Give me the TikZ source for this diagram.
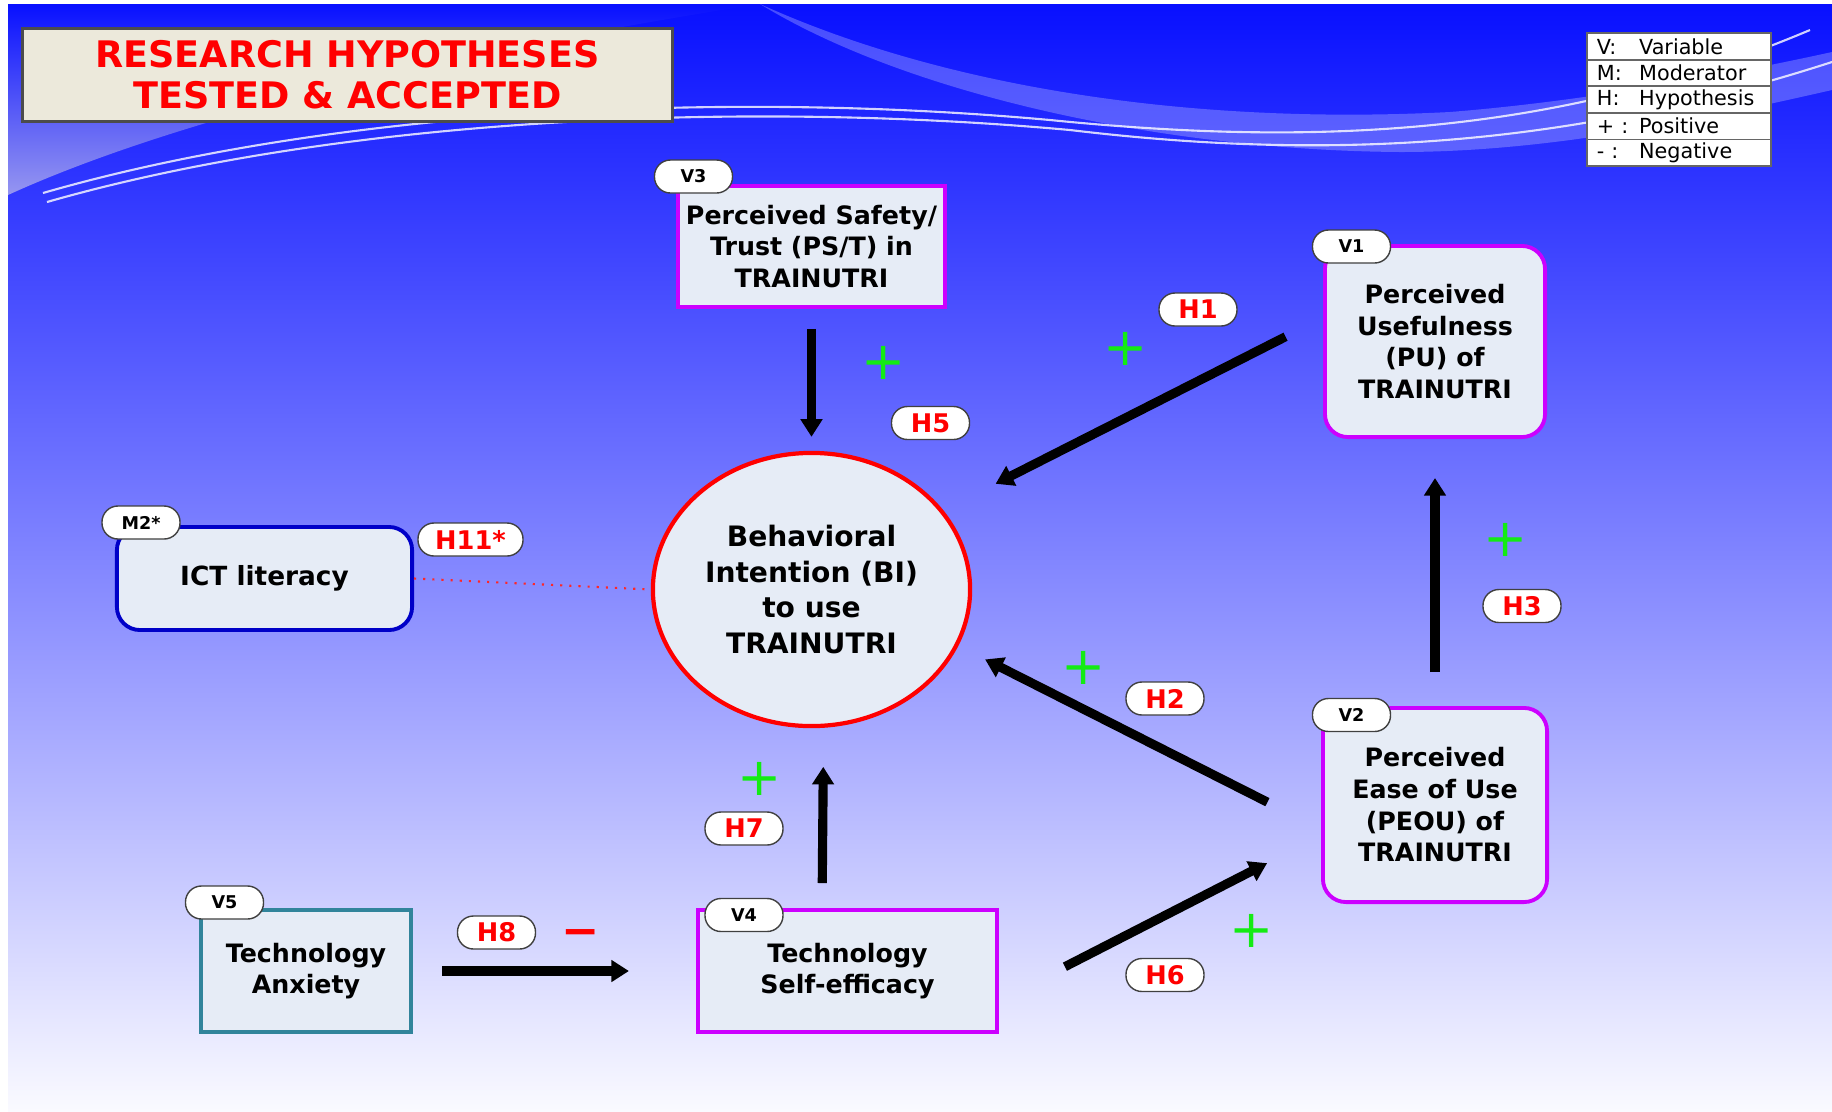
\documentclass[tikz,border=0pt]{standalone}
\usepackage{fontspec}
\setmainfont{DejaVu Sans}
\usepackage{tikz}
\usetikzlibrary{arrows.meta,shapes,positioning}
\usepackage{xcolor}
\definecolor{bgtop}{RGB}{8,16,255}
\definecolor{bgbottom}{RGB}{250,250,255}
\definecolor{swoosh}{RGB}{150,150,240}
\definecolor{boxfill}{RGB}{230,236,246}
\definecolor{dfmagenta}{RGB}{204,0,255}
\definecolor{dfnavy}{RGB}{0,0,200}
\definecolor{dfteal}{RGB}{49,132,155}
\definecolor{titlefill}{RGB}{236,233,219}
\definecolor{plusgreen}{RGB}{20,235,20}
\newcommand{\varfont}{\fontsize{7.2}{9}\selectfont\bfseries}
\newcommand{\bifont}{\fontsize{8}{10.2}\selectfont\bfseries}
\newcommand{\tagfont}{\fontsize{5}{6}\selectfont\bfseries}
\newcommand{\hypfont}{\fontsize{7.3}{8}\selectfont\bfseries}
\newcommand{\legfont}{\fontsize{5.9}{7}\selectfont}
\newcommand{\hdfont}{\fontsize{10.4}{11.7}\selectfont\bfseries}
\newcommand{\legitem}[2]{\makebox[12pt][l]{#1}#2}
\tikzstyle{arrow} = [line width=2.6pt, ->, >={Triangle[length=5pt,width=6pt]}]
\tikzstyle{varbox} = [rectangle, draw=dfmagenta, fill=boxfill, line width=1.1pt, align=center, font=\varfont, inner sep=0pt]
\tikzstyle{roundbox} = [varbox, rounded corners=0.23cm]
\tikzstyle{tag} = [rectangle, rounded corners=0.16cm, draw=black!75, fill=white, line width=0.4pt, minimum width=0.78cm, minimum height=0.33cm, inner sep=0pt, font=\tagfont]
\tikzstyle{hyp} = [tag, text=red, font=\hypfont]
\tikzstyle{plus} = [text=plusgreen, font=\fontsize{15}{15}\selectfont, inner sep=0pt]
\tikzstyle{legrow} = [rectangle, draw=black!60, fill=white, line width=0.5pt, minimum width=1.84cm, minimum height=0.266cm, text width=1.64cm, inner xsep=0.1cm, inner ysep=0pt, align=left, font=\legfont]

\begin{document}
\begin{tikzpicture}[x=0.01cm, y=-0.01cm]
    \useasboundingbox (0,0) rectangle (1832,1111);

    % Background
    \fill[white] (0,0) rectangle (1832,1111);
    \shade[top color=bgtop, bottom color=bgbottom] (8,4) rectangle (1832,1111);
    \shade[top color=bgtop, bottom color=swoosh] (8,195) .. controls (150,130) and (400,60) .. (760,4) -- (8,4) -- cycle;
    \fill[white, opacity=0.25] (760,4) .. controls (950,90) and (1200,125) .. (1450,112) .. controls (1600,100) and (1750,70) .. (1832,52) -- (1832,90) .. controls (1700,120) and (1550,152) .. (1400,152) .. controls (1150,150) and (900,90) .. (760,4) -- cycle;
    \draw[white, opacity=0.8, line width=0.6pt] (43,193) .. controls (330,110) and (720,90) .. (1050,120) .. controls (1300,145) and (1550,140) .. (1810,30);
    \draw[white, opacity=0.8, line width=0.6pt] (47,202) .. controls (340,118) and (740,100) .. (1070,130) .. controls (1320,160) and (1560,150) .. (1832,62);

    % Title and legend
    \node[rectangle, draw=black!70, fill=titlefill, line width=0.8pt, minimum width=6.49cm, minimum height=0.82cm, align=center, text=red, font=\hdfont] (title) at (347.5,75) {RESEARCH HYPOTHESES\\TESTED \& ACCEPTED};
    \node[legrow] (lv) at (1679,46.3) {\legitem{V:}{Variable}};
    \node[legrow] (lm) at (1679,73) {\legitem{M:}{Moderator}};
    \node[legrow] (lh) at (1679,99.6) {\legitem{H:}{Hypothesis}};
    \node[legrow] (lp) at (1679,126.2) {\legitem{+ :}{Positive}};
    \node[legrow] (ln) at (1679,152.9) {\legitem{- :}{Negative}};

    % Nodes
    \node[varbox, minimum width=2.67cm, minimum height=1.21cm] (v3) at (811.5,246.5) {Perceived Safety/\\Trust (PS/T) in\\TRAINUTRI};
    \node[ellipse, draw=red, fill=boxfill, line width=1.2pt, minimum width=3.17cm, minimum height=2.73cm, inner sep=0pt, align=center, font=\bifont] (bi) at (811.5,589.5) {Behavioral\\Intention (BI)\\to use\\TRAINUTRI};
    \node[roundbox, minimum width=2.2cm, minimum height=1.91cm] (v1) at (1435,341.5) {Perceived\\Usefulness\\(PU) of\\TRAINUTRI};
    \node[roundbox, minimum width=2.24cm, minimum height=1.94cm] (v2) at (1435,805) {Perceived\\Ease of Use\\(PEOU) of\\TRAINUTRI};
    \node[roundbox, draw=dfnavy, minimum width=2.95cm, minimum height=1.03cm, font=\fontsize{7.5}{9}\selectfont\bfseries] (ict) at (264.5,578.5) {ICT literacy};
    \node[varbox, draw=dfteal, minimum width=2.1cm, minimum height=1.22cm] (v5) at (306,971) {Technology\\Anxiety};
    \node[varbox, minimum width=2.99cm, minimum height=1.22cm] (v4) at (847.5,971) {Technology\\Self-efficacy};

    % Variable tags
    \node[tag] (v3tag) at (693.5,176.5) {V3};
    \node[tag] (v1tag) at (1351.5,246.5) {V1};
    \node[tag] (v2tag) at (1351.5,715) {V2};
    \node[tag] (m2tag) at (141,522.5) {M2*};
    \node[tag] (v5tag) at (224.5,902.5) {V5};
    \node[tag] (v4tag) at (744,915) {V4};

    % Arrows
    \draw[red!85!white, line width=0.6pt, dotted] (ict.east) -- (bi.west);
    \draw[arrow, shorten <=0.20cm, shorten >=0.14cm] (v3.south) -- (bi.north);
    \draw[arrow, shorten <=0.42cm, shorten >=0.585cm] (v1.168) -- (bi.31.9);
    \draw[arrow, shorten <=0.34cm, shorten >=0.39cm] (v2.north) -- (v1.south);
    \draw[arrow, shorten <=0.60cm, shorten >=0.30cm] (v2.192.7) -- (bi.-21.15);
    \draw[arrow, shorten <=0.25cm, shorten >=0.39cm] (v4.112.7) -- (bi.-85.6);
    \draw[arrow, shorten <=0.74cm, shorten >=0.605cm] (v4.-11.46) -- (v2.195.8);
    \draw[arrow, shorten <=0.29cm, shorten >=0.67cm] (v5.east) -- (v4.west);

    % Hypothesis labels
    \node[hyp] (h5) at (930.5,423) {H5};
    \node[hyp] (h1) at (1198,309.5) {H1};
    \node[hyp] (h3) at (1522,606) {H3};
    \node[hyp] (h2) at (1165,698.5) {H2};
    \node[hyp] (h7) at (744,828.5) {H7};
    \node[hyp] (h6) at (1165,975) {H6};
    \node[hyp] (h8) at (496.5,932.5) {H8};
    \node[hyp, minimum width=1.05cm] (h11) at (470.5,539.5) {H11*};

    % Signs
    \node[plus] (s5) at (884,363) {+};
    \node[plus] (s1) at (1126,349) {+};
    \node[plus] (s3) at (1506,540) {+};
    \node[plus] (s2) at (1084,668) {+};
    \node[plus] (s7) at (760,779) {+};
    \node[plus] (s6) at (1252,931) {+};
    \node[text=red, font=\fontsize{13}{13}\selectfont\bfseries, inner sep=0pt] (s8) at (580.5,938) {−};
\end{tikzpicture}
\end{document}
